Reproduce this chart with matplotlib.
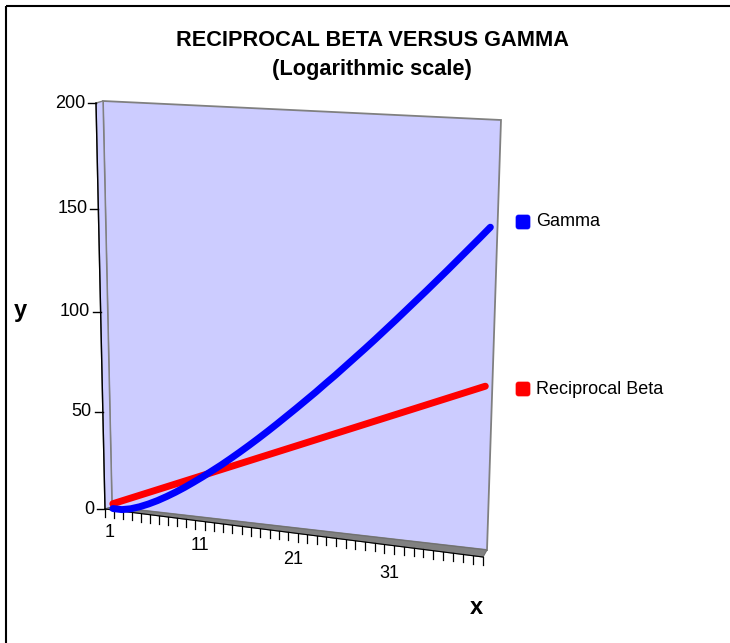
import numpy as np
import matplotlib
matplotlib.use("Agg")
import matplotlib.pyplot as plt
import matplotlib.transforms as mtransforms
from matplotlib.patches import Polygon, Rectangle, FancyBboxPatch

plt.rcParams['font.family'] = ['Liberation Sans', 'DejaVu Sans']

# data (log scale values, x = 1..40)
x_vals = list(range(1, 41))
gamma = [0, 0, 1.0, 2.6, 4.6, 6.9, 9.5, 12.3, 15.3, 18.5,
         21.8, 25.3, 28.8, 32.5, 36.3, 40.2, 44.2, 48.3, 52.5, 56.8,
         61.1, 65.5, 69.9, 74.5, 79.0, 83.7, 88.4, 93.1, 97.9, 102.8,
         107.7, 112.7, 117.7, 122.7, 127.8, 132.9, 138.1, 143.3, 148.5, 153.8]
recip_beta = [2.5, 4.5, 6.5, 8.5, 10.5, 12.5, 14.5, 16.5, 18.5, 20.5,
              22.5, 24.5, 26.5, 28.5, 30.5, 32.5, 34.5, 36.5, 38.5, 40.5,
              42.5, 44.5, 46.5, 48.5, 50.5, 52.5, 54.5, 56.5, 58.5, 60.5,
              62.5, 64.5, 66.5, 68.5, 70.5, 72.5, 74.5, 76.5, 78.5, 80.5]
y_ticks = [0, 50, 100, 150, 200]
x_labels = [1, 11, 21, 31]

W, H = 730, 643
fig = plt.figure(figsize=(W / 100, H / 100), dpi=100)
ax = fig.add_axes([0, 0, 1, 1])
ax.set_xlim(0.5, 40.5)
ax.set_ylim(0, 200)
ax.set_autoscale_on(False)
ax.axis('off')

# figure pixels (top-left origin) -> figure
pix = mtransforms.Affine2D().scale(1 / W, -1 / H).translate(0, 1) + fig.transFigure


def homography(src, dst):
    A, b = [], []
    for (x, y), (X, Y) in zip(src, dst):
        A.append([x, y, 1, 0, 0, 0, -x * X, -y * X]); b.append(X)
        A.append([0, 0, 0, x, y, 1, -x * Y, -y * Y]); b.append(Y)
    h = np.linalg.solve(np.array(A, float), np.array(b, float))
    return np.append(h, 1).reshape(3, 3)


class WallProj(mtransforms.Transform):
    """unit square -> perspective wall in pixels, pushed forward by dz"""
    input_dims = 2
    output_dims = 2
    is_separable = False
    has_inverse = False

    def __init__(self, M, dz, s0, s1):
        super().__init__()
        self.M = M
        self.dz = dz
        self.s0 = np.array(s0, float)
        self.s1 = np.array(s1, float)

    def transform_non_affine(self, values):
        v = np.asarray(values, float).reshape(-1, 2)
        u = v[:, 0]
        p = np.column_stack([v, np.ones(len(v))]) @ self.M.T
        xy = p[:, :2] / p[:, 2:3]
        off = (1 - u)[:, None] * self.s0 + u[:, None] * self.s1
        return xy + self.dz * off


unit = [(0, 0), (1, 0), (1, 1), (0, 1)]
wall_px = [(112, 507), (487, 550), (501, 120), (103, 101)]
M = homography(unit, wall_px)
s_left, s_right = (-7, 2), (-4, 7)
wall = WallProj(M, 0.0, s_left, s_right)
mid = WallProj(M, 0.5, s_left, s_right)
front = WallProj(M, 1.0, s_left, s_right)

lavender = '#CCCCFF'
edge = '#808080'

# back wall
ax.add_patch(Polygon(unit, closed=True, transform=wall + pix, fc=lavender,
                     ec=edge, lw=1.3, clip_on=False))
# left side of the wall
side = np.vstack([front.transform([[0, 0], [0, 1]]), wall.transform([[0, 1], [0, 0]])])
ax.add_patch(Polygon(side, closed=True, transform=pix, fc=lavender, ec=edge,
                     lw=1.0, clip_on=False))
# floor
floor = np.vstack([wall.transform([[0, 0], [1, 0]]), front.transform([[1, 0], [0, 0]])])
ax.add_patch(Polygon(floor, closed=True, transform=pix, fc='#808080', ec='#707070',
                     lw=0.8, clip_on=False))

# axis lines
ax.plot([0, 0], [0, 1], color='black', lw=1.0, transform=front + pix, clip_on=False)
ax.plot([0, 1], [0, 0], color='black', lw=0.8, transform=front + pix, clip_on=False)

data_front = ax.transLimits + front

# y ticks and labels
for t in y_ticks:
    px, py = data_front.transform([[0.5, t]])[0]
    ax.plot([px - 8, px], [py, py], color='black', lw=1.0, transform=pix, clip_on=False)
    fig.text(px - 11, py, str(t), ha='right', va='center', fontsize=13, transform=pix)

# x ticks and labels
for k in range(41):
    px, py = data_front.transform([[0.5 + k, 0]])[0]
    ax.plot([px, px], [py, py + 8], color='black', lw=0.9, transform=pix, clip_on=False)
for lab in x_labels:
    px, py = data_front.transform([[lab, 0]])[0]
    u = (lab - 0.5) / 40
    fig.text(px, py + 23 + 7 * u, str(lab), ha='center', va='center', fontsize=13,
             transform=pix)

# series
line_tr = ax.transLimits + mid + pix
ax.plot(x_vals, recip_beta, color='#FF0000', lw=5, solid_capstyle='round',
        transform=line_tr, clip_on=False)
ax.plot(x_vals, gamma, color='#0000FF', lw=5, solid_capstyle='round',
        transform=line_tr, clip_on=False)

# titles and axis names
fig.text(372, 40, 'RECIPROCAL BETA VERSUS GAMMA', ha='center', va='center',
         fontsize=15.7, fontweight='bold', transform=pix)
fig.text(372, 70, '(Logarithmic scale)', ha='center', va='center',
         fontsize=15.7, fontweight='bold', transform=pix)
fig.text(20, 311, 'y', ha='center', va='center', fontsize=17, fontweight='bold',
         transform=pix)
fig.text(476, 608, 'x', ha='center', va='center', fontsize=17, fontweight='bold',
         transform=pix)

# legend
for name, col, ly in [('Gamma', '#0000FF', 222), ('Reciprocal Beta', '#FF0000', 389)]:
    ax.add_patch(FancyBboxPatch((516, ly - 7), 14, 14,
                                boxstyle='round,pad=0,rounding_size=2.5',
                                transform=pix, fc=col, ec=col, lw=0.5, clip_on=False))
    fig.text(536, ly, name, ha='left', va='center', fontsize=13, transform=pix)

# chart border
ax.add_patch(Rectangle((5.5, 5.5), 760, 660, transform=pix, fill=False,
                       ec='black', lw=1.5, clip_on=False))

fig.savefig('out.png', dpi=100)
